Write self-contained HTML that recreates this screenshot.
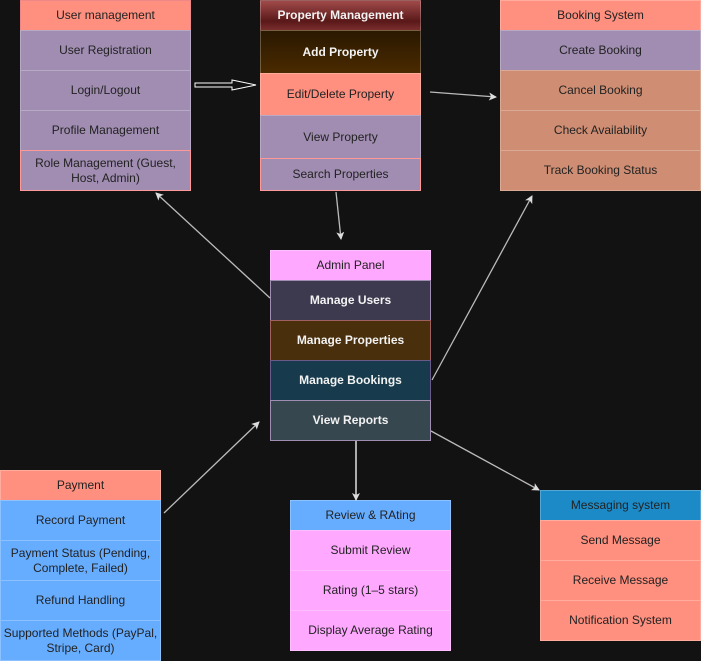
<!DOCTYPE html>
<html><head><meta charset="utf-8"><style>
body{margin:0;width:701px;height:661px;background:#121212;position:relative;overflow:hidden;font-family:"Liberation Sans",Arial,sans-serif;font-size:12px;color:#222}
.b{position:absolute;box-sizing:border-box;display:flex;align-items:center;justify-content:center;text-align:center;line-height:15px;border:1px solid rgba(255,255,255,0.25)}
.s{background:#ff8f7e}.p{background:#a08db1}.t{background:#cf8e73}.bl{background:#66adff}.pk{background:#ffa8ff}
.w{color:#f2f2f2;font-weight:bold}
svg{position:absolute;left:0;top:0}
</style></head><body>
<!-- User management -->
<div class="b s" style="left:20px;top:0;width:171px;height:31px;border-color:#e88">User management</div>
<div class="b p" style="left:20px;top:30px;width:171px;height:41px">User Registration</div>
<div class="b p" style="left:20px;top:70px;width:171px;height:41px">Login/Logout</div>
<div class="b p" style="left:20px;top:110px;width:171px;height:41px">Profile Management</div>
<div class="b p" style="left:20px;top:150px;width:171px;height:41px;border-color:#f99">Role Management (Guest,<br>Host, Admin)</div>
<!-- Property -->
<div class="b w" style="left:260px;top:0;width:161px;height:31px;background:linear-gradient(#a04a4a,#5a1818 70%,#7a2e2e)">Property Management</div>
<div class="b w" style="left:260px;top:30px;width:161px;height:44px;background:linear-gradient(#2a1800,#4a2a00)">Add Property</div>
<div class="b s" style="left:260px;top:73px;width:161px;height:43px">Edit/Delete Property</div>
<div class="b p" style="left:260px;top:115px;width:161px;height:44px">View Property</div>
<div class="b p" style="left:260px;top:158px;width:161px;height:33px;border-color:#f99">Search Properties</div>
<!-- Booking -->
<div class="b s" style="left:500px;top:0;width:201px;height:31px">Booking System</div>
<div class="b p" style="left:500px;top:30px;width:201px;height:41px">Create Booking</div>
<div class="b t" style="left:500px;top:70px;width:201px;height:41px">Cancel Booking</div>
<div class="b t" style="left:500px;top:110px;width:201px;height:41px">Check Availability</div>
<div class="b t" style="left:500px;top:150px;width:201px;height:41px">Track Booking Status</div>
<!-- Admin -->
<div class="b pk" style="left:270px;top:250px;width:161px;height:31px">Admin Panel</div>
<div class="b w" style="left:270px;top:280px;width:161px;height:41px;background:#3d3a4f;border-color:#a08db1">Manage Users</div>
<div class="b w" style="left:270px;top:320px;width:161px;height:41px;background:#4a2f0c;border-color:#a06060">Manage Properties</div>
<div class="b w" style="left:270px;top:360px;width:161px;height:41px;background:#173b4c;border-color:#6a5a8a">Manage Bookings</div>
<div class="b w" style="left:270px;top:400px;width:161px;height:41px;background:#37474f;border-color:#a08db1">View Reports</div>
<!-- Payment -->
<div class="b s" style="left:0;top:470px;width:161px;height:31px">Payment</div>
<div class="b bl" style="left:0;top:500px;width:161px;height:41px">Record Payment</div>
<div class="b bl" style="left:0;top:540px;width:161px;height:41px">Payment Status (Pending,<br>Complete, Failed)</div>
<div class="b bl" style="left:0;top:580px;width:161px;height:41px">Refund Handling</div>
<div class="b bl" style="left:0;top:620px;width:161px;height:41px">Supported Methods (PayPal,<br>Stripe, Card)</div>
<!-- Review -->
<div class="b bl" style="left:290px;top:500px;width:161px;height:31px">Review &amp; RAting</div>
<div class="b pk" style="left:290px;top:530px;width:161px;height:41px">Submit Review</div>
<div class="b pk" style="left:290px;top:570px;width:161px;height:41px">Rating (1–5 stars)</div>
<div class="b pk" style="left:290px;top:610px;width:161px;height:41px">Display Average Rating</div>
<!-- Messaging -->
<div class="b" style="left:540px;top:490px;width:161px;height:31px;background:#1b8ac6">Messaging system</div>
<div class="b s" style="left:540px;top:520px;width:161px;height:41px">Send Message</div>
<div class="b s" style="left:540px;top:560px;width:161px;height:41px">Receive Message</div>
<div class="b s" style="left:540px;top:600px;width:161px;height:41px">Notification System</div>
<svg width="701" height="661">
<defs><marker id="a" markerWidth="8" markerHeight="8" refX="7" refY="4" orient="auto" markerUnits="userSpaceOnUse"><path d="M0,0 L8,4 L0,8 L2,4 Z" fill="#ddd"/></marker></defs>
<g stroke="#bbb" stroke-width="1.3" fill="none" marker-end="url(#a)">
<line x1="430" y1="92" x2="496" y2="97"/>
<line x1="336" y1="192" x2="341" y2="239"/>
<line x1="270" y1="298" x2="156" y2="193"/>
<line x1="432" y1="380" x2="532" y2="196"/>
<line x1="164" y1="513" x2="259" y2="422"/>
<line x1="356" y1="441" x2="356" y2="500" stroke="#fff"/>
<line x1="431" y1="431" x2="539" y2="490"/>
</g>
<path d="M195,83 L232,83 L232,80 L256,85 L232,90 L232,87 L195,87 Z" fill="none" stroke="#fff" stroke-width="1"/>
</svg>
</body></html>
